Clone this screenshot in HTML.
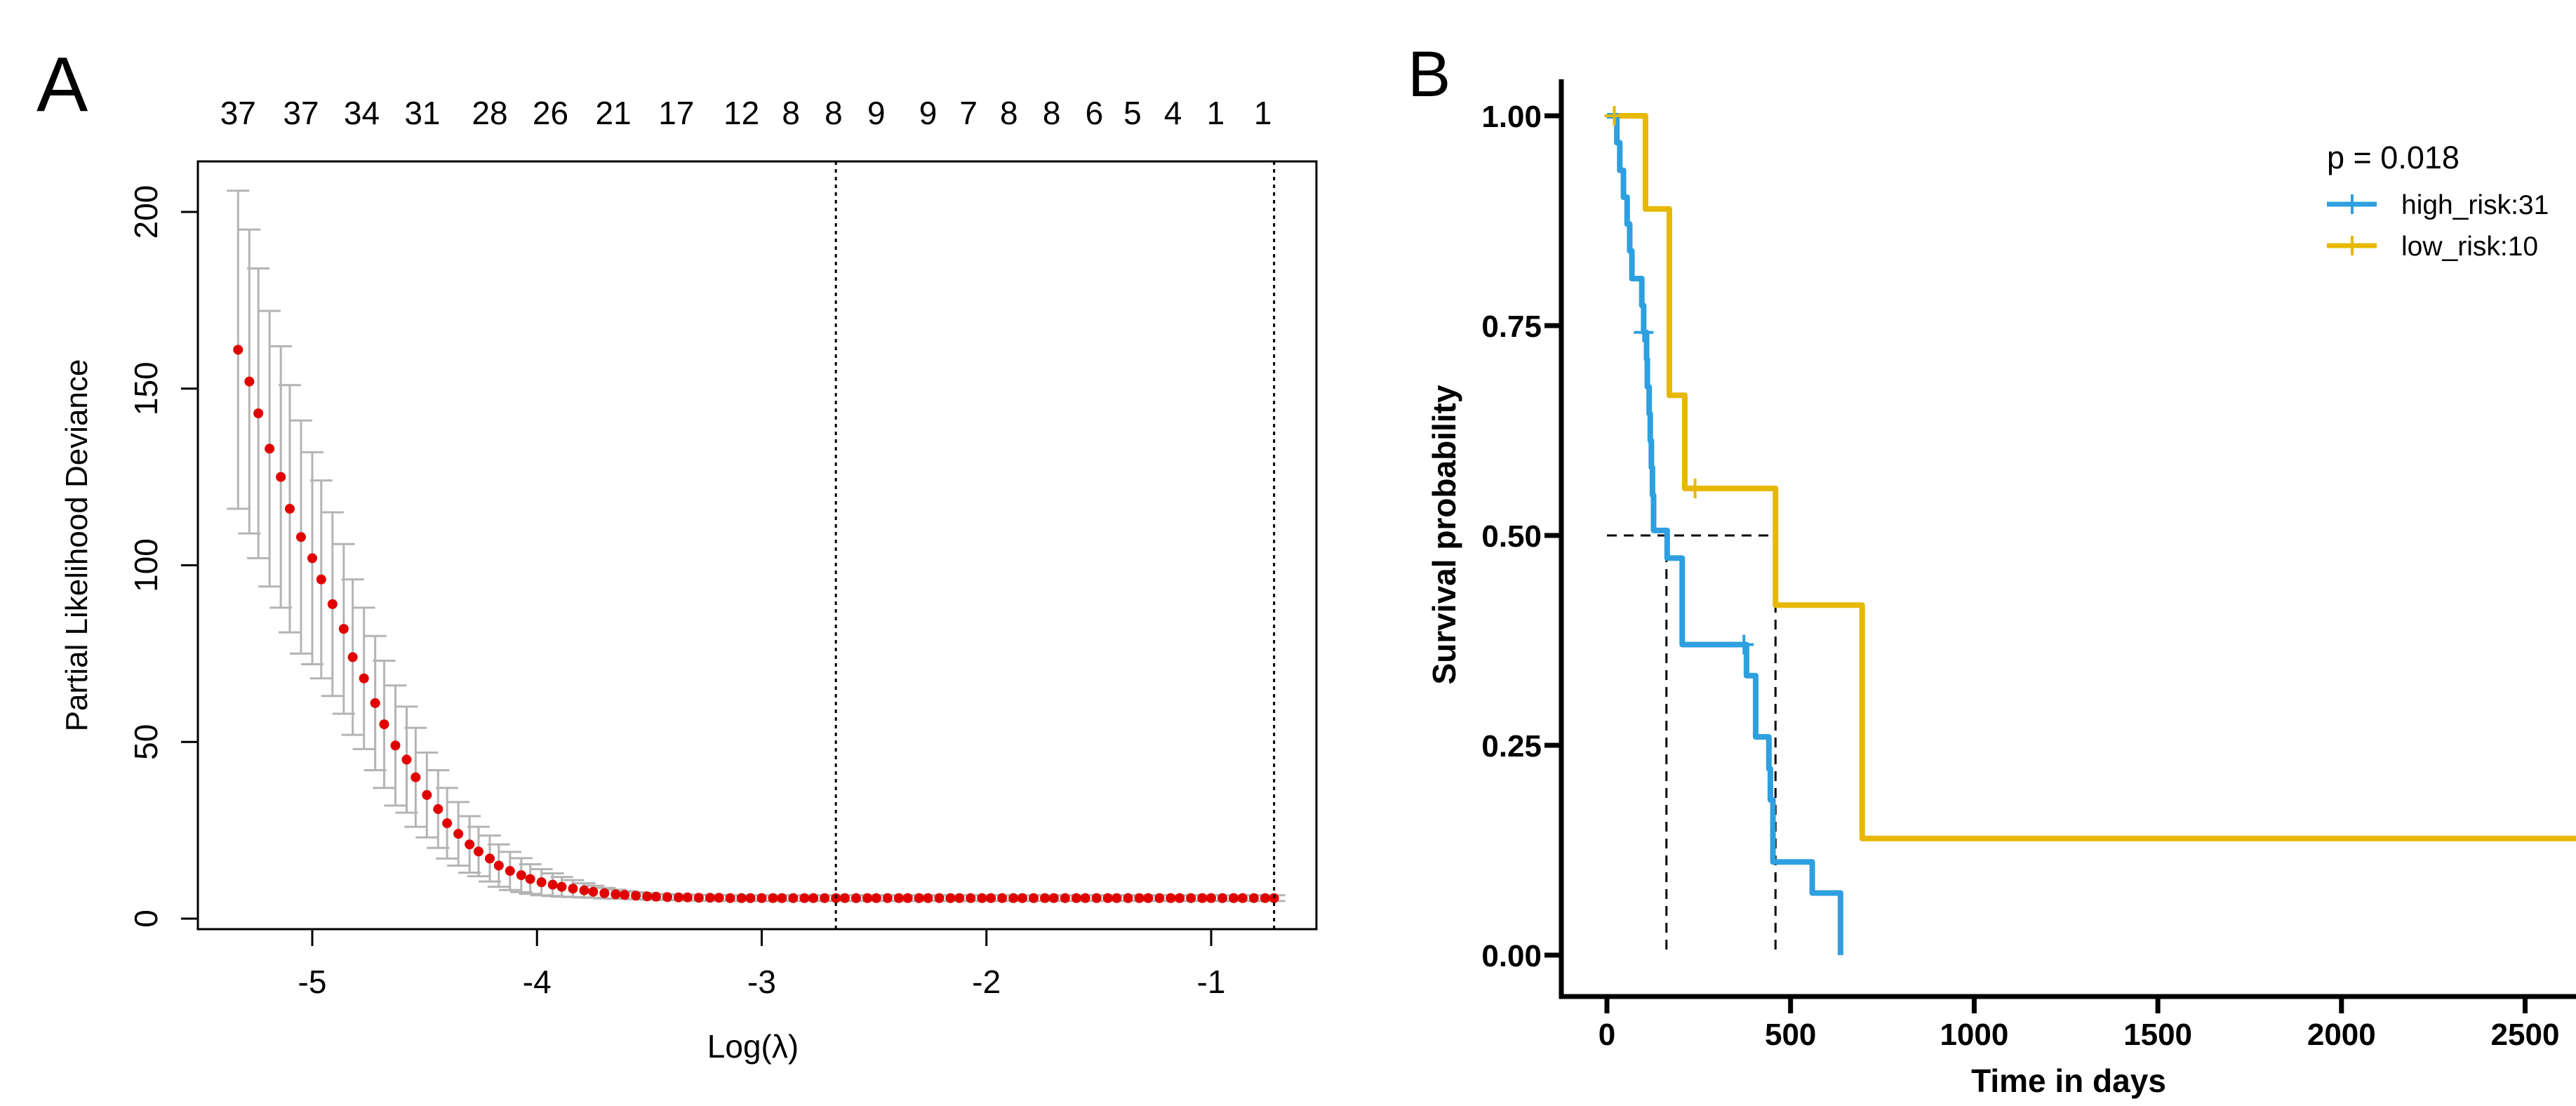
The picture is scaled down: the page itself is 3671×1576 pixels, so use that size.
<!DOCTYPE html>
<html><head><meta charset="utf-8"><style>
html,body{margin:0;padding:0;background:#fff;}
svg{display:block;}
text{font-family:"Liberation Sans",Arial,sans-serif;}
</style></head><body>
<svg id="fig" width="3671" height="1576" viewBox="0 0 3671 1576" xmlns="http://www.w3.org/2000/svg">
<rect x="0" y="0" width="3671" height="1576" fill="#fff"/>
<text x="52" y="158" font-size="110">A</text>
<text x="2006" y="137" font-size="92">B</text>
<g id="left"></g>
<g id="right"></g>
</svg>
<script>
// ---------- Panel A data ----------
const logLambda = [-5.33,-5.28,-5.24,-5.19,-5.14,-5.10,-5.05,-5.00,-4.96,-4.91,
-4.86,-4.82,-4.77,-4.72,-4.68,-4.63,-4.58,-4.54,-4.49,-4.44,
-4.40,-4.35,-4.30,-4.26,-4.21,-4.17,-4.12,-4.07,-4.03,-3.98,
-3.93,-3.89,-3.84,-3.79,-3.75,-3.70,-3.65,-3.61,-3.56,-3.51,
-3.47,-3.42,-3.37,-3.33,-3.28,-3.23,-3.19,-3.14,-3.09,-3.05,
-3.00,-2.95,-2.91,-2.86,-2.81,-2.77,-2.72,-2.67,-2.63,-2.58,
-2.53,-2.49,-2.44,-2.39,-2.35,-2.30,-2.26,-2.21,-2.16,-2.12,
-2.07,-2.02,-1.98,-1.93,-1.88,-1.84,-1.79,-1.74,-1.70,-1.65,
-1.60,-1.56,-1.51,-1.46,-1.42,-1.37,-1.32,-1.28,-1.23,-1.18,
-1.14,-1.09,-1.04,-1.00,-0.95,-0.90,-0.86,-0.81,-0.76,-0.72];
const cvMean = [161,152,143,133,125,116,108,102,96,89,
82,74,68,61,55,49,45,40,35,31,
27,24,21,19,17,15,13.5,12.3,11.2,10.3,
9.6,9.0,8.5,8.0,7.6,7.2,6.9,6.7,6.5,6.3,
6.2,6.1,6.0,6.0,5.9,5.9,5.9,5.8,5.8,5.8,
5.8,5.8,5.8,5.8,5.8,5.8,5.8,5.8,5.8,5.8,
5.8,5.8,5.8,5.8,5.8,5.8,5.8,5.8,5.8,5.8,
5.8,5.8,5.8,5.8,5.8,5.8,5.8,5.8,5.8,5.8,
5.8,5.8,5.8,5.8,5.8,5.8,5.8,5.8,5.8,5.8,
5.8,5.8,5.8,5.8,5.8,5.8,5.8,5.8,5.8,5.8];
const cvSd = [45,43,41,39,37,35,33,30,28,26,
24,22,20,19,18,17,15,14,12,11,
10,9,8,7,6.5,6,5.4,4.8,4.2,3.7,
3.2,2.8,2.4,2.0,1.7,1.5,1.3,1.1,1.0,0.9,
0.8,0.8,0.8,0.8,0.8,0.8,0.8,0.8,0.8,0.8,
0.8,0.8,0.8,0.8,0.8,0.8,0.8,0.8,0.8,0.8,
0.8,0.8,0.8,0.8,0.8,0.8,0.8,0.8,0.8,0.8,
0.8,0.8,0.8,0.8,0.8,0.8,0.8,0.8,0.8,0.8,
0.8,0.8,0.8,0.8,0.8,0.8,0.8,0.8,0.8,0.8,
0.8,0.8,0.8,0.8,0.8,0.8,0.8,0.8,0.8,0.8];
const topCounts = ["37","37","34","31","28","26","21","17","12","8","8","9","9","7","8","8","6","5","4","1","1"];
const topCountPos = [-5.33,-5.05,-4.78,-4.51,-4.21,-3.94,-3.66,-3.38,-3.09,-2.87,-2.68,-2.49,-2.26,-2.08,-1.90,-1.71,-1.52,-1.35,-1.17,-0.98,-0.77];
const xTicksA = [-5,-4,-3,-2,-1];
const yTicksA = [0,50,100,150,200];
const lambdaLines = [-2.67,-0.72];

// ---------- Panel B data ----------
const highTimes = [0,27,35,45,55,62,68,95,100,108,110,115,118,121,124,127,164,205,380,405,441,445,452,559,636];
const highSurv  = [1,0.968,0.935,0.903,0.871,0.839,0.806,0.774,0.742,0.710,0.677,0.645,0.613,0.581,0.548,0.506,0.473,0.370,0.333,0.260,0.222,0.185,0.111,0.074,0];
const lowTimes = [0,105,170,212,459,695,2640];
const lowSurv  = [1,0.889,0.667,0.556,0.417,0.139,0.139];
const highCensorT = [100,373];
const highCensorS = [0.742,0.370];
const lowCensorT = [20,240];
const lowCensorS = [1,0.556];
const medianTimes = [162,459];
const xTicksB = [0,500,1000,1500,2000,2500];
const yTicksB = [0,0.25,0.5,0.75,1];
const yTickLabelsB = ["0.00","0.25","0.50","0.75","1.00"];

const NS = "http://www.w3.org/2000/svg";
function mk(parent, tag, attrs, txt){
  const e = document.createElementNS(NS, tag);
  for (const k in attrs) e.setAttribute(k, attrs[k]);
  if (txt !== undefined) e.textContent = txt;
  parent.appendChild(e);
  return e;
}

// ---------- Panel A ----------
const L = document.getElementById('left');
const ax = v => 445 + (v + 5) * 320.25;
const ay = v => 1309 - v * 5.035;
const boxL = 282, boxT = 230, boxR = 1876, boxB = 1324;

let e;
for (let i = 0; i < logLambda.length; i++) {
  const x = ax(logLambda[i]), up = ay(cvMean[i] + cvSd[i]), lo = ay(cvMean[i] - cvSd[i]);
  const g = mk(L, 'g', {stroke:'#b4b4b4','stroke-width':3,fill:'none'});
  
  
  mk(g, 'line', {x1:x, x2:x, y1:up, y2:lo});
  mk(g, 'line', {x1:x-16, x2:x+16, y1:up, y2:up});
  mk(g, 'line', {x1:x-16, x2:x+16, y1:lo, y2:lo});
}
for (let i = 0; i < logLambda.length; i++) {
  e = mk(L, 'circle', {cx:ax(logLambda[i]), cy:ay(cvMean[i]), r:7, fill:'#e00000'});
  
  
}
for (const v of lambdaLines) {
  e = mk(L, 'line', {x1:ax(v), x2:ax(v), y1:boxT, y2:boxB, stroke:'#000','stroke-width':3,'stroke-dasharray':'5 6'});
  
  
}
e = mk(L, 'rect', {x:boxL, y:boxT, width:boxR-boxL, height:boxB-boxT, fill:'none', stroke:'#000','stroke-width':3});


for (const t of xTicksA) {
  mk(L, 'line', {x1:ax(t), x2:ax(t), y1:boxB, y2:boxB+24, stroke:'#000','stroke-width':3});
  e = mk(L, 'text', {x:ax(t), y:1415, 'font-size':46, 'text-anchor':'middle'}, String(t));
  
  
}
for (const t of yTicksA) {
  mk(L, 'line', {x1:boxL-24, x2:boxL, y1:ay(t), y2:ay(t), stroke:'#000','stroke-width':3});
  e = mk(L, 'text', {x:224, y:ay(t), 'font-size':46, 'text-anchor':'middle', transform:`rotate(-90 224 ${ay(t)})`}, String(t));
  
  
}
for (let i = 0; i < topCounts.length; i++) {
  e = mk(L, 'text', {x:ax(topCountPos[i]), y:177, 'font-size':46, 'text-anchor':'middle'}, topCounts[i]);
  
  
}
e = mk(L, 'text', {x:1073, y:1507, 'font-size':46, 'text-anchor':'middle'}, 'Log(λ)');


e = mk(L, 'text', {x:124, y:777, 'font-size':44, 'text-anchor':'middle', transform:'rotate(-90 124 777)'}, 'Partial Likelihood Deviance');



// ---------- Panel B ----------
const R = document.getElementById('right');
const bx = d => 2290 + d * 0.5234;
const by = s => 1361 - s * 1196;

function stepPath(ts, ss){
  let d = `M${bx(ts[0])},${by(ss[0])}`;
  for (let i = 1; i < ts.length; i++) d += ` H${bx(ts[i])} V${by(ss[i])}`;
  return d;
}
e = mk(R, 'line', {x1:bx(0), x2:bx(medianTimes[1]), y1:by(0.5), y2:by(0.5), stroke:'#000','stroke-width':3,'stroke-dasharray':'14 10'});


for (const m of medianTimes) {
  e = mk(R, 'line', {x1:bx(m), x2:bx(m), y1:by(0.5), y2:by(0), stroke:'#000','stroke-width':3,'stroke-dasharray':'14 10'});
  
  
}
e = mk(R, 'path', {d:stepPath(lowTimes, lowSurv), fill:'none', stroke:'#E7B800','stroke-width':8,'stroke-linejoin':'round'});


e = mk(R, 'path', {d:stepPath(highTimes, highSurv), fill:'none', stroke:'#2E9FDF','stroke-width':8,'stroke-linejoin':'round'});


function censor(t, s, col, name){
  const g = mk(R, 'g', {stroke:col, 'stroke-width':4});
  
  
  mk(g, 'line', {x1:bx(t)-14, x2:bx(t)+14, y1:by(s), y2:by(s)});
  mk(g, 'line', {x1:bx(t), x2:bx(t), y1:by(s)-14, y2:by(s)+14});
}
for (let i = 0; i < highCensorT.length; i++) censor(highCensorT[i], highCensorS[i], '#2E9FDF', 'high-risk-censor');
for (let i = 0; i < lowCensorT.length; i++) censor(lowCensorT[i], lowCensorS[i], '#E7B800', 'low-risk-censor');
e = mk(R, 'line', {x1:2225, x2:2225, y1:113, y2:1423, stroke:'#000','stroke-width':7});


e = mk(R, 'line', {x1:2222, x2:3671, y1:1420, y2:1420, stroke:'#000','stroke-width':7});


for (const t of xTicksB) {
  mk(R, 'line', {x1:bx(t), x2:bx(t), y1:1420, y2:1444, stroke:'#000','stroke-width':7});
  e = mk(R, 'text', {x:bx(t), y:1489, 'font-size':44, 'font-weight':'bold', 'text-anchor':'middle'}, String(t));
  
  
}
for (let i = 0; i < yTicksB.length; i++) {
  mk(R, 'line', {x1:2201, x2:2225, y1:by(yTicksB[i]), y2:by(yTicksB[i]), stroke:'#000','stroke-width':7});
  e = mk(R, 'text', {x:2197, y:by(yTicksB[i])+16, 'font-size':44, 'font-weight':'bold', 'text-anchor':'end'}, yTickLabelsB[i]);
  
  
}
e = mk(R, 'text', {x:2948, y:1556, 'font-size':46, 'font-weight':'bold', 'text-anchor':'middle'}, 'Time in days');


e = mk(R, 'text', {x:2074, y:762, 'font-size':46, 'font-weight':'bold', 'text-anchor':'middle', transform:'rotate(-90 2074 762)'}, 'Survival probability');


e = mk(R, 'text', {x:3316, y:240, 'font-size':45}, 'p = 0.018');


const legendNames = ['high_risk:31','low_risk:10'];
const legendCols = ['#2E9FDF','#E7B800'];
for (let i = 0; i < 2; i++) {
  const yy = 291 + i * 59;
  const g = mk(R, 'g', {});
  
  
  mk(g, 'line', {x1:3316, x2:3387, y1:yy, y2:yy, stroke:legendCols[i], 'stroke-width':7});
  mk(g, 'line', {x1:3352, x2:3352, y1:yy-14, y2:yy+14, stroke:legendCols[i], 'stroke-width':4});
  mk(g, 'text', {x:3422, y:yy+14, 'font-size':39}, legendNames[i]);
}
</script>
</body></html>
